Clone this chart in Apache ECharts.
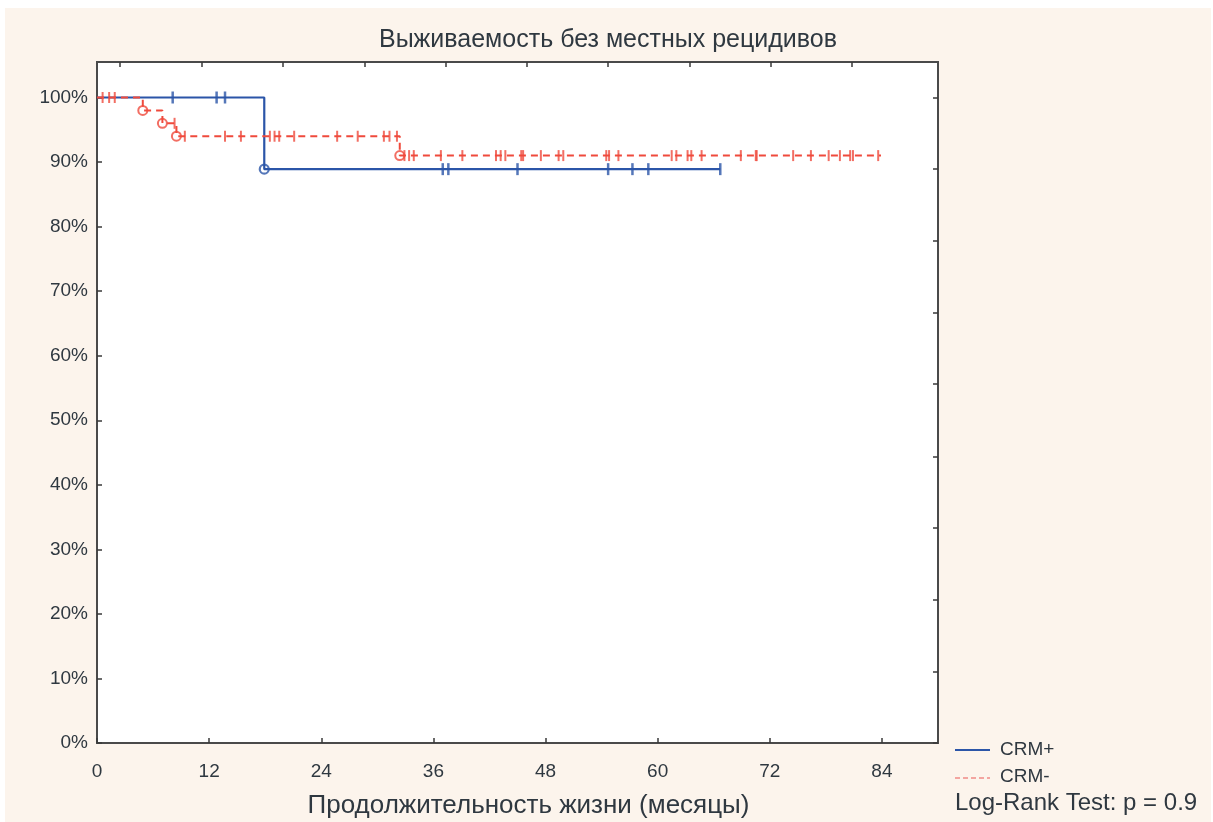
<!DOCTYPE html>
<html>
<head>
<meta charset="utf-8">
<script src="https://cdn.jsdelivr.net/npm/echarts@6/dist/echarts.min.js"></script>
<style>
  html, body { margin: 0; padding: 0; background: #ffffff; }
  #chart { position: absolute; left: 5px; top: 8px; width: 1206px; height: 814px; }
</style>
</head>
<body>
<div id="chart"></div>
<script>
// Kaplan–Meier curves: local-recurrence-free survival by CRM status
const chartTitle = 'Выживаемость без местных рецидивов';
const xAxisTitle = 'Продолжительность жизни (месяцы)';
const legendNames = ['CRM+', 'CRM-'];
const logRankText = 'Log-Rank Test: p = 0.9';

const xTicks = [0, 12, 24, 36, 48, 60, 72, 84];
const yTicks = [0, 0.1, 0.2, 0.3, 0.4, 0.5, 0.6, 0.7, 0.8, 0.9, 1.0];
const topTicks = [2.46, 11.17, 19.88, 28.6, 37.3, 46.0, 54.7, 63.4, 72.1, 80.8];
const rightTicks = [0, 0.111, 0.222, 0.333, 0.444, 0.556, 0.667, 0.778, 0.889, 1.0];

// CRM+ : step curve (time in months, survival), events and censored times
const crmPlusTimes = [0, 17.9, 66.7];
const crmPlusSurv = [1.0, 0.889, 0.889];
const crmPlusEvents = [17.9];
const crmPlusCensored = [8.1, 12.8, 13.7, 37.0, 37.6, 45.0, 54.7, 57.3, 59.0, 66.7];

// CRM- : step curve, events and censored times
const crmMinusTimes = [0, 4.9, 7.0, 8.5, 32.4, 83.9];
const crmMinusSurv = [1.0, 0.98, 0.96, 0.94, 0.91, 0.91];
const crmMinusEvents = [4.9, 7.0, 8.5, 32.4];
const crmMinusCensored = [0.6, 1.3, 1.9, 8.3, 9.4, 13.7, 15.4, 18.5, 19.0, 19.5, 21.1, 25.7,
  27.9, 30.7, 31.3, 32.1, 32.9, 33.4, 33.9, 36.8, 39.1, 42.7, 43.2, 43.7, 45.4, 45.6, 47.5,
  49.4, 49.9, 54.5, 54.8, 55.8, 61.5, 62.0, 63.2, 63.6, 64.7, 68.9, 70.5, 70.6, 74.5, 76.4,
  78.3, 79.5, 80.6, 80.9, 83.6];

const BLUE = '#2b55a8';
const RED = '#ef4a3c';
const RED_LIGHT = '#f08a86';
const FONT = 'Liberation Sans';
const TEXT = '#2f3840';

// survival value of a step curve at time t
function survAt(times, surv, t) {
  let v = surv[0];
  for (let i = 0; i < times.length; i++) { if (times[i] <= t) v = surv[i]; }
  return v;
}
const pairs = (times, surv) => times.map((t, i) => [t, surv[i]]);
const onCurve = (list, times, surv) => list.map(t => [t, survAt(times, surv, t)]);

const chart = echarts.init(document.getElementById('chart'), null, { renderer: 'canvas' });

const tickStyle = { show: true, inside: true, length: 5, lineStyle: { color: '#3a3a3a', width: 1.5 } };
const hiddenLine = { show: false, onZero: false };

// legend block, bottom right
const legendX = 950, legendY = 742;
const legendGraphics = [
  { type: 'line', shape: { x1: legendX, y1: legendY, x2: legendX + 35, y2: legendY },
    style: { stroke: BLUE, lineWidth: 2 } },
  { type: 'text', x: legendX + 45, y: legendY, style: { text: legendNames[0], font: '19px "Liberation Sans"',
    fill: TEXT, verticalAlign: 'middle' } },
  { type: 'line', shape: { x1: legendX, y1: legendY + 28, x2: legendX + 35, y2: legendY + 28 },
    style: { stroke: RED_LIGHT, lineWidth: 1.5, lineDash: [5, 3] } },
  { type: 'text', x: legendX + 45, y: legendY + 27, style: { text: legendNames[1], font: '19px "Liberation Sans"',
    fill: TEXT, verticalAlign: 'middle' } },
  { type: 'text', x: legendX, y: legendY + 53, style: { text: logRankText, font: '24px "Liberation Sans"',
    fill: TEXT, verticalAlign: 'middle' } }
];

chart.setOption({
  backgroundColor: '#fcf4ec',
  animation: false,
  title: {
    text: chartTitle, left: 'center', top: 15,
    textStyle: { fontFamily: FONT, fontSize: 25, fontWeight: 'normal', color: TEXT }
  },
  grid: {
    left: 92, top: 54, width: 841, height: 681,
    outerBoundsMode: 'none',
    show: true, backgroundColor: '#ffffff', borderColor: '#4a4a4a', borderWidth: 2
  },
  xAxis: [
    {
      type: 'value', min: 0, max: 90, position: 'bottom',
      name: xAxisTitle, nameLocation: 'middle', nameGap: 50,
      nameTextStyle: { fontFamily: FONT, fontSize: 26, color: TEXT, padding: [0, 0, 0, 22] },
      axisLine: hiddenLine,
      axisTick: Object.assign({ customValues: xTicks }, tickStyle),
      axisLabel: { customValues: xTicks, margin: 19, fontFamily: FONT, fontSize: 19, color: TEXT },
      splitLine: { show: false }
    },
    {
      type: 'value', min: 0, max: 90, position: 'top',
      axisLine: hiddenLine,
      axisTick: Object.assign({ customValues: topTicks }, tickStyle),
      axisLabel: { show: false },
      splitLine: { show: false }
    }
  ],
  yAxis: [
    {
      type: 'value', min: 0, max: 1.055, position: 'left',
      axisLine: hiddenLine,
      axisTick: Object.assign({ customValues: yTicks }, tickStyle),
      axisLabel: {
        customValues: yTicks, margin: 9, fontFamily: FONT, fontSize: 19, color: TEXT,
        formatter: v => Math.round(v * 100) + '%'
      },
      splitLine: { show: false }
    },
    {
      type: 'value', min: 0, max: 1.055, position: 'right',
      axisLine: hiddenLine,
      axisTick: Object.assign({ customValues: rightTicks }, tickStyle),
      axisLabel: { show: false },
      splitLine: { show: false }
    }
  ],
  graphic: legendGraphics,
  series: [
    {
      name: 'CRM+', type: 'line', step: 'end', symbol: 'none', z: 2,
      data: pairs(crmPlusTimes, crmPlusSurv),
      lineStyle: { color: BLUE, width: 2.2 }, itemStyle: { color: BLUE }
    },
    {
      name: 'CRM+ цензурированные', type: 'scatter', z: 3,
      data: onCurve(crmPlusCensored, crmPlusTimes, crmPlusSurv),
      symbol: 'rect', symbolSize: [2.5, 12], itemStyle: { color: BLUE }
    },
    {
      name: 'CRM+ события', type: 'scatter', z: 3,
      data: onCurve(crmPlusEvents, crmPlusTimes, crmPlusSurv),
      symbol: 'circle', symbolSize: 9,
      itemStyle: { color: 'rgba(255,255,255,0)', borderColor: BLUE, borderWidth: 2.2 }
    },
    {
      name: 'CRM-', type: 'line', step: 'end', symbol: 'none', z: 4,
      data: pairs(crmMinusTimes, crmMinusSurv),
      lineStyle: { color: RED, width: 2, type: [7, 5] }, itemStyle: { color: RED }
    },
    {
      name: 'CRM- цензурированные', type: 'scatter', z: 5,
      data: onCurve(crmMinusCensored, crmMinusTimes, crmMinusSurv),
      symbol: 'rect', symbolSize: [2, 11], itemStyle: { color: RED }
    },
    {
      name: 'CRM- события', type: 'scatter', z: 5,
      data: onCurve(crmMinusEvents, crmMinusTimes, crmMinusSurv),
      symbol: 'circle', symbolSize: 9,
      itemStyle: { color: 'rgba(255,255,255,0)', borderColor: RED, borderWidth: 2 }
    }
  ]
});
</script>
</body>
</html>
